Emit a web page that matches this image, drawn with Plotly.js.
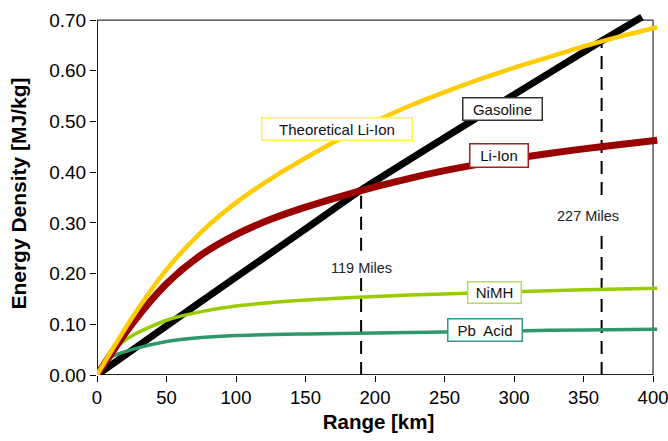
<!DOCTYPE html>
<html>
<head>
<meta charset="utf-8">
<script src="https://cdn.plot.ly/plotly-3.0.1.min.js"></script>
<style>html,body{margin:0;padding:0;background:#fff}#chart{width:668px;height:441px}</style>
</head>
<body>
<div id="chart"></div>
<script>
// Range [km] and energy density [MJ/kg]
const theoKm  = [0, 25, 50, 75, 100, 125, 150, 175, 200, 225, 250, 275, 300, 325, 350, 375, 403];
const theoVal = [0, 0.112, 0.208, 0.282, 0.340, 0.387, 0.428, 0.466, 0.500, 0.531, 0.558, 0.583, 0.606, 0.627, 0.648, 0.667, 0.686];

const liKm  = [0, 25, 50, 75, 100, 125, 150, 175, 200, 225, 250, 275, 300, 325, 350, 375, 403];
const liVal = [0, 0.100, 0.180, 0.237, 0.277, 0.307, 0.331, 0.352, 0.371, 0.388, 0.403, 0.416, 0.427, 0.437, 0.446, 0.454, 0.463];

const gasKm  = [0, 50, 100, 150, 190, 250, 300, 363, 392];
const gasVal = [0, 0.097, 0.193, 0.288, 0.365, 0.468, 0.553, 0.659, 0.706];

const nimhKm  = [0, 12, 25, 50, 75, 100, 150, 200, 250, 300, 350, 403];
const nimhVal = [0, 0.050, 0.077, 0.108, 0.125, 0.136, 0.148, 0.155, 0.160, 0.164, 0.168, 0.171];

const pbKm  = [0, 10, 25, 50, 75, 100, 150, 200, 250, 300, 350, 403];
const pbVal = [0, 0.035, 0.050, 0.066, 0.074, 0.078, 0.081, 0.083, 0.085, 0.087, 0.089, 0.090];

// Range markers (miles) and their km positions
const markerLabels = ["119 Miles", "227 Miles"];
const markerKm     = [190, 363];
const markerTop    = [0.365, 0.657];
const markerGapLo  = [0.195, 0.282];
const markerGapHi  = [0.245, 0.355];
const markerLabelX = [190, 353];
const markerLabelY = [0.211, 0.314];

// Series labels
const seriesNames  = ["Theoretical Li-Ion", "Gasoline", "Li-Ion", "NiMH", "Pb  Acid"];
const labelX       = [173, 292, 289, 286, 279];
const labelY       = [0.486, 0.524, 0.432, 0.162, 0.088];

const xTicks = [0, 50, 100, 150, 200, 250, 300, 350, 400];
const yTicks = [0, 0.1, 0.2, 0.3, 0.4, 0.5, 0.6, 0.7];

const FONT = "Liberation Sans, Arial, sans-serif";

const traces = [];
// dashed marker lines
for (let i = 0; i < markerKm.length; i++) {
  traces.push({
    x: [markerKm[i], markerKm[i], null, markerKm[i], markerKm[i]],
    y: [0, markerGapLo[i], null, markerGapHi[i], markerTop[i]],
    mode: "lines", line: {color: "#000", width: 2, dash: "13px,8px"},
    hoverinfo: "skip", showlegend: false
  });
}
traces.push({x: gasKm, y: gasVal, mode: "lines", line: {color: "#000000", width: 7, shape: "spline", smoothing: 0.4}, name: seriesNames[1]});
traces.push({x: pbKm, y: pbVal, mode: "lines", line: {color: "#2E9966", width: 3.5, shape: "spline", smoothing: 0.7}, name: seriesNames[4]});
traces.push({x: nimhKm, y: nimhVal, mode: "lines", line: {color: "#99CC00", width: 3.5, shape: "spline", smoothing: 0.7}, name: seriesNames[3]});
traces.push({x: liKm, y: liVal, mode: "lines", line: {color: "#990000", width: 7, shape: "spline", smoothing: 0.8}, name: seriesNames[2]});
traces.push({x: theoKm, y: theoVal, mode: "lines", line: {color: "#FFCC00", width: 4.5, shape: "spline", smoothing: 0.8}, name: seriesNames[0]});

const boxBorder = ["#FFF04A", "#333333", "#A52020", "#B5D86A", "#2E9A8C"];
const boxW = [147, 76, 55, 50, 71];
const boxH = [19, 19, 20, 18, 19];

const annotations = [];
for (let i = 0; i < seriesNames.length; i++) {
  annotations.push({
    x: labelX[i], y: labelY[i], xref: "x", yref: "y", text: seriesNames[i],
    showarrow: false, bgcolor: "#fff", bordercolor: boxBorder[i], borderwidth: 1.5,
    borderpad: 1, width: boxW[i], height: boxH[i],
    font: {family: FONT, size: 15, color: "#111"}
  });
}
for (let i = 0; i < markerLabels.length; i++) {
  annotations.push({
    x: markerLabelX[i], y: markerLabelY[i], xref: "x", yref: "y", text: markerLabels[i],
    showarrow: false, font: {family: FONT, size: 14.5, color: "#222"}
  });
}

const layout = {
  width: 668, height: 441,
  margin: {l: 97, r: 8, t: 12, b: 66, pad: 0},
  paper_bgcolor: "#fff", plot_bgcolor: "#fff",
  showlegend: false,
  font: {family: FONT, color: "#000"},
  xaxis: {
    range: [0, 405], tickvals: xTicks, ticktext: xTicks.map(String),
    ticks: "outside", ticklen: 6, tickwidth: 1, tickcolor: "#000",
    showgrid: false, zeroline: false, showline: false,
    ticklabeloverflow: "allow",
    tickfont: {family: FONT, size: 18.5, color: "#000"},
    title: {text: "<b>Range [km]</b>", font: {family: FONT, size: 20.5, color: "#000"}, standoff: 7},
    automargin: false
  },
  yaxis: {
    range: [0, 0.716], tickvals: yTicks, ticktext: yTicks.map(v => v.toFixed(2)),
    ticks: "outside", ticklen: 6, tickwidth: 1, tickcolor: "#000",
    showgrid: false, zeroline: false, showline: false,
    ticklabeloverflow: "allow",
    tickfont: {family: FONT, size: 19, color: "#000"},
    title: {text: "<b>Energy Density [MJ/kg]</b>", font: {family: FONT, size: 21, color: "#000"}, standoff: 16},
    automargin: false
  },
  shapes: [
    {type: "rect", xref: "x", yref: "y", x0: 0, x1: 400, y0: 0, y1: 0.7, line: {color: "#000", width: 1}, layer: "below"},
    {type: "line", xref: "x", yref: "y", x0: 0, x1: 400, y0: 0, y1: 0, line: {color: "#000", width: 1.5}, layer: "below"},
    {type: "line", xref: "x", yref: "y", x0: 0, x1: 0, y0: 0, y1: 0.7, line: {color: "#000", width: 1.5}, layer: "below"}
  ],
  annotations: annotations
};

Plotly.newPlot("chart", traces, layout, {displayModeBar: false, staticPlot: true});
</script>
</body>
</html>
